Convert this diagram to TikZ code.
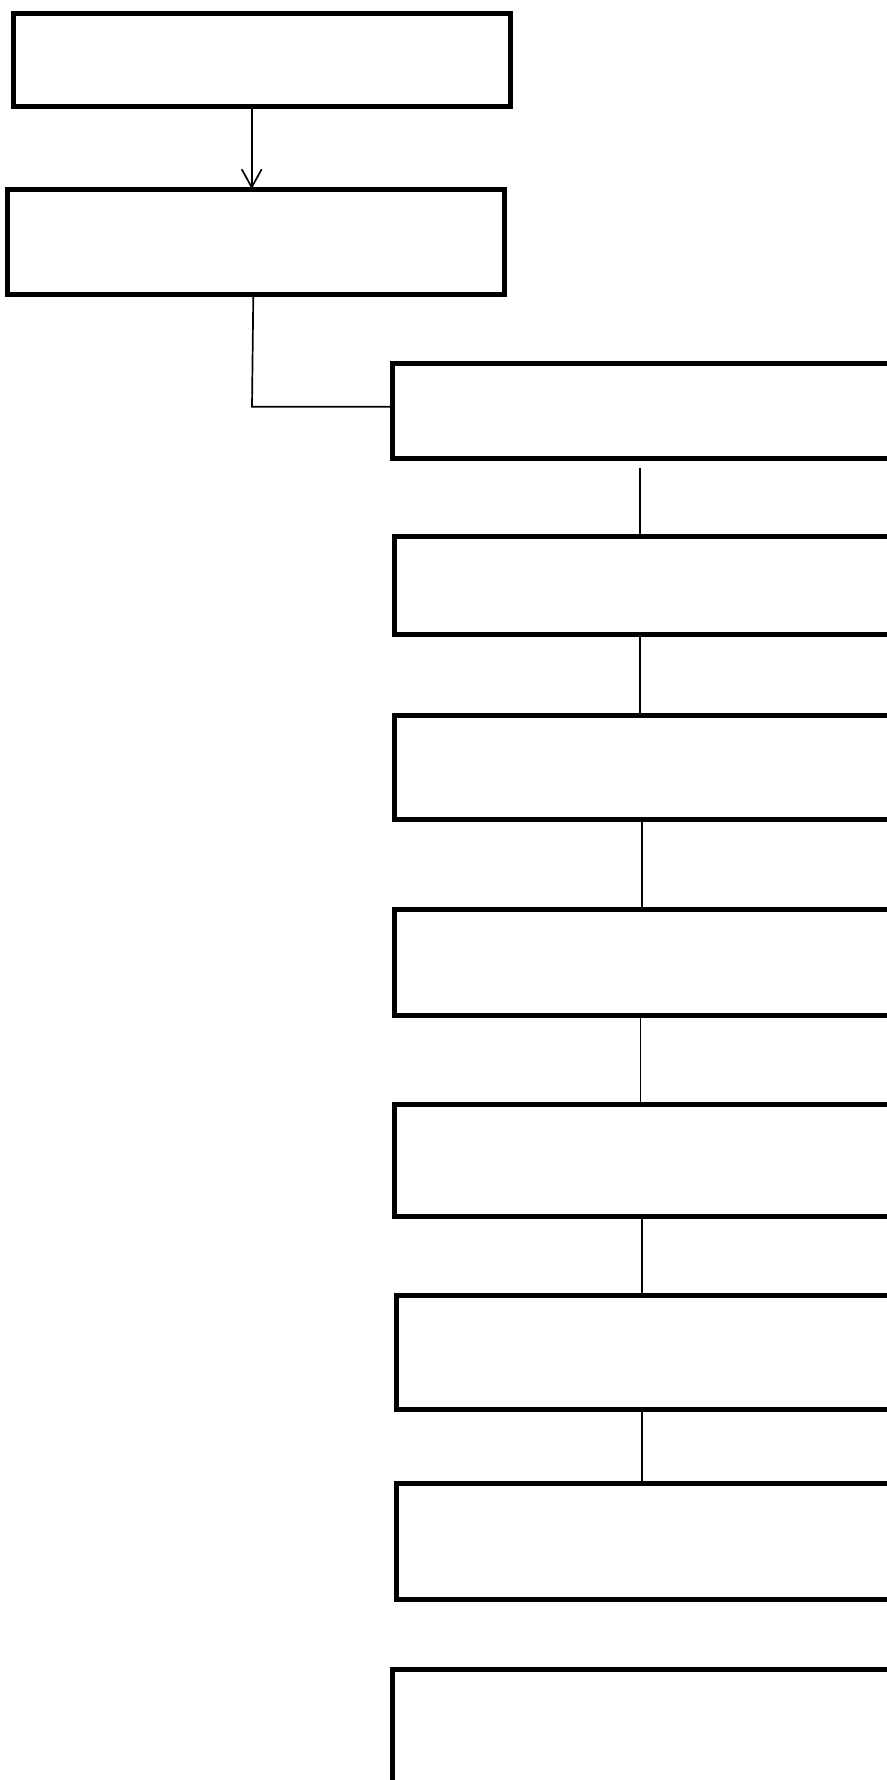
\documentclass[tikz,border=0pt]{standalone}
\usetikzlibrary{arrows.meta}
\begin{document}
\begin{tikzpicture}[x=1pt,y=-1pt,
  box/.style={draw=black,line width=5pt,rectangle,inner sep=0pt,outer sep=0pt,anchor=north west,fill=none},
  link/.style={draw=black,line width=1.7pt},
  arrowlink/.style={link,-{Straight Barb[length=18pt,width=20pt,line width=1.7pt]}}]
\useasboundingbox (0,0) rectangle (886,1780);
% boxes: (left, top) with border-centre sizes
\node[box,minimum width=497pt,minimum height=93.5pt] (b1) at (13.5,13) {};
\node[box,minimum width=496.7pt,minimum height=105.5pt] (b2) at (7.8,189) {};
\node[box,minimum width=497.2pt,minimum height=95.7pt] (b3) at (392.3,363) {};
\node[box,minimum width=495.5pt,minimum height=98pt] (b4) at (394,536.8) {};
\node[box,minimum width=495.5pt,minimum height=104pt] (b5) at (394,715.2) {};
\node[box,minimum width=495.5pt,minimum height=106pt] (b6) at (394,909.3) {};
\node[box,minimum width=495.5pt,minimum height=111.9pt] (b7) at (394,1104.8) {};
\node[box,minimum width=493.5pt,minimum height=114.3pt] (b8) at (396,1295) {};
\node[box,minimum width=493.5pt,minimum height=115.5pt] (b9) at (396,1483.5) {};
\node[box,minimum width=497.5pt,minimum height=140pt] (b10) at (392,1669) {};
% connectors
\draw[arrowlink] (b1.south -| 251.7,0) -- (b2.north -| 251.7,0);
\coordinate (c1) at (252,406.7);
\draw[link] (b2.south -| 253.3,0) -- (c1) -- (c1 -| b3.west);
\coordinate (c2) at (640,468.3);
\draw[link] (c2) -- (b4.north -| c2);
\draw[link] (b4.south -| 640.3,0) -- (b5.north -| 640.3,0);
\draw[link] (b5.south -| 642,0) -- (b6.north -| 642,0);
\draw[link] (b6.south -| 640.6,0) -- (b7.north -| 640.6,0);
\draw[link] (b7.south -| 641.8,0) -- (b8.north -| 641.8,0);
\draw[link] (b8.south -| 642,0) -- (b9.north -| 642,0);
\end{tikzpicture}
\end{document}
